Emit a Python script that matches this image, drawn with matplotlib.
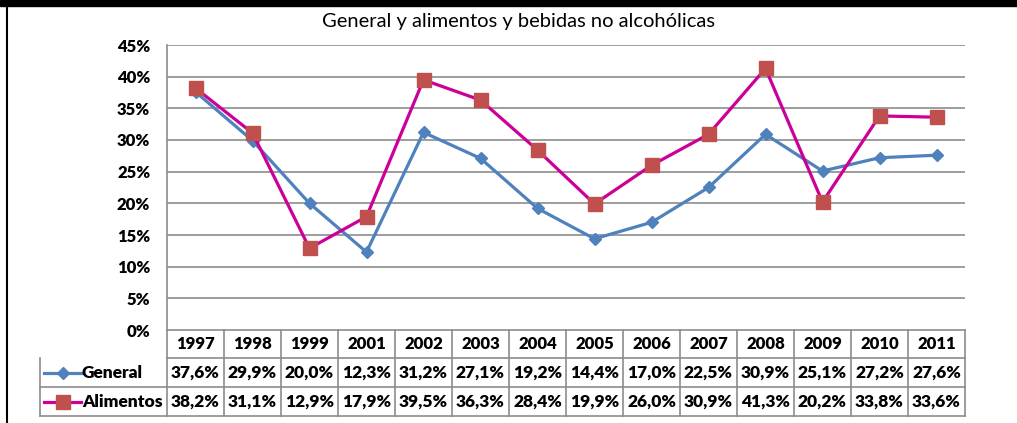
import matplotlib.pyplot as plt
from matplotlib.lines import Line2D
from matplotlib.patches import Rectangle
import matplotlib.transforms as mtransforms

plt.rcParams['font.family'] = ['Lato', 'DejaVu Sans']

years = ['1997', '1998', '1999', '2001', '2002', '2003', '2004',
         '2005', '2006', '2007', '2008', '2009', '2010', '2011']
general = [37.6, 29.9, 20.0, 12.3, 31.2, 27.1, 19.2, 14.4, 17.0, 22.5, 30.9, 25.1, 27.2, 27.6]
alimentos = [38.2, 31.1, 12.9, 17.9, 39.5, 36.3, 28.4, 19.9, 26.0, 30.9, 41.3, 20.2, 33.8, 33.6]

BLUE = '#4F81BD'
MAGENTA = '#CC0099'
RED = '#C0504D'
GRID = '#8C8C8C'
BOLD = 'heavy'

W, H = 1017, 423
fig = plt.figure(figsize=(W / 100, H / 100), dpi=100)
ax = fig.add_axes([167 / W, (H - 330) / H, (965 - 167) / W, (330 - 45) / H])

x = [i + 0.5 for i in range(len(years))]
ax.plot(x, general, color=BLUE, lw=2.3, marker='D', ms=6.5,
        mfc=BLUE, mec=BLUE, zorder=3)
ax.plot(x, alimentos, color=MAGENTA, lw=2.3, marker='s', ms=9.5,
        mfc=RED, mec=RED, zorder=4)

ax.set_xlim(0, len(years))
ax.set_ylim(0, 45)
ax.set_yticks(range(0, 50, 5))
ax.set_yticklabels([f'{v}%' for v in range(0, 50, 5)], fontsize=12, fontweight=BOLD)
ax.tick_params(axis='y', length=0, pad=12)
ax.set_xticks([])
for v in range(5, 50, 5):
    ax.axhline(v, color=GRID, lw=1.2, zorder=1)
for s in ['top', 'right']:
    ax.spines[s].set_visible(False)
for s in ['left', 'bottom']:
    ax.spines[s].set_color(GRID)
    ax.spines[s].set_linewidth(1.2)

fig.text(518 / W, (H - 22) / H, 'General y alimentos y bebidas no alcohólicas',
         ha='center', va='center', fontsize=14.5)

# data table below the axes
trans = mtransforms.blended_transform_factory(ax.transData, ax.transAxes)
ah = 285.0
y_rows = [0, -28 / ah, -57 / ah, -86 / ah]
left_x = (40 - 167) / 798.0
n = len(years)
tkw = dict(color=GRID, lw=1.2, clip_on=False, zorder=2)

for k in range(1, 4):
    yy = y_rows[k]
    x0 = 0 if k == 1 else left_x
    ax.add_line(Line2D([x0, 1], [yy, yy], transform=ax.transAxes, **tkw))
ax.add_line(Line2D([left_x, left_x], [y_rows[1], y_rows[3]], transform=ax.transAxes, **tkw))
for i in range(n + 1):
    ax.add_line(Line2D([i, i], [0, y_rows[3]], transform=trans, **tkw))

cell_fs = 12.5
for i, yr in enumerate(years):
    ax.text(i + 0.5, (y_rows[0] + y_rows[1]) / 2, yr, transform=trans,
            ha='center', va='center', fontsize=12, fontweight=BOLD)
    ax.text(i + 0.5, (y_rows[1] + y_rows[2]) / 2, f'{general[i]:.1f}%'.replace('.', ','),
            transform=trans, ha='center', va='center', fontsize=cell_fs, fontweight=BOLD)
    ax.text(i + 0.5, (y_rows[2] + y_rows[3]) / 2, f'{alimentos[i]:.1f}%'.replace('.', ','),
            transform=trans, ha='center', va='center', fontsize=cell_fs, fontweight=BOLD)

# legend keys inside the table's first column
keys = [('General', BLUE, 'D', 6.5, BLUE), ('Alimentos', MAGENTA, 's', 9.5, RED)]
for (label, col, mk, ms, mc), r in zip(keys, [1, 2]):
    yc = (y_rows[r] + y_rows[r + 1]) / 2
    x1 = (44 - 167) / 798.0
    x2 = (81 - 167) / 798.0
    xm = (63 - 167) / 798.0
    ax.add_line(Line2D([x1, x2], [yc, yc], transform=ax.transAxes,
                       color=col, lw=2.3, clip_on=False))
    ax.add_line(Line2D([xm], [yc], transform=ax.transAxes, marker=mk, ms=ms,
                       mfc=mc, mec=mc, clip_on=False, lw=0))
    ax.text((82 - 167) / 798.0, yc, label, transform=ax.transAxes, ha='left',
            va='center', fontsize=cell_fs, fontweight=BOLD)

# outer frame pieces
fig.patches.append(Rectangle((0, (H - 6) / H), 1, 6 / H, transform=fig.transFigure,
                             color='black', zorder=10))
fig.lines.append(Line2D([6.5 / W, 6.5 / W], [0, 1], transform=fig.transFigure,
                        color='black', lw=1.5))

fig.savefig('out.png', dpi=100)
